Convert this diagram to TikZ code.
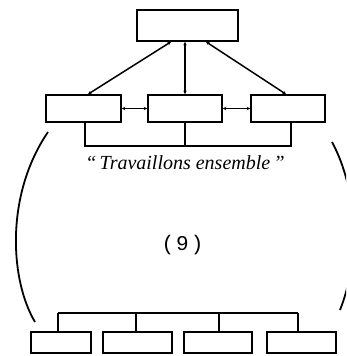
\documentclass[tikz,border=0pt]{standalone}
\usepackage{fontspec}
\setmainfont{Liberation Serif}
\newfontfamily\monofont{Liberation Mono}
\usetikzlibrary{calc,arrows.meta}
\tikzset{
  unit/.style={draw, line width=1.6pt, rectangle, inner sep=0pt},
  link/.style={line width=1.5pt},
  flow/.style={line width=1.5pt, {Stealth[length=3.5pt,width=3.5pt]}-{Stealth[length=3.5pt,width=3.5pt]}},
  brace/.style={line width=1.8pt},
}
\begin{document}
\begin{tikzpicture}[x=1pt,y=-1pt]
\useasboundingbox (0,0) rectangle (346,356);
\clip (0,0) rectangle (346,356);

% head unit
\node[unit, minimum width=101pt, minimum height=31pt] (top) at (187.5,25.5) {};

% middle row
\node[unit, minimum width=75pt, minimum height=27pt] (ml) at (83.5,108.5) {};
\node[unit, minimum width=74pt, minimum height=27pt] (mm) at (185,108.5) {};
\node[unit, minimum width=74pt, minimum height=27pt] (mr) at (288,108.5) {};

% bottom row
\node[unit, minimum width=60pt, minimum height=21pt] (b1) at (61,342.5) {};
\node[unit, minimum width=69pt, minimum height=21pt] (b2) at (137.5,342.5) {};
\node[unit, minimum width=68pt, minimum height=21pt] (b3) at (218,342.5) {};
\node[unit, minimum width=69pt, minimum height=21pt] (b4) at (301.5,342.5) {};

% links from the head unit
\draw[flow] ($(top.south)+(-16.5,0)$) -- ($(ml.north)+(4.5,0)$);
\draw[flow] (top.south -| mm.north) -- (mm.north);
\draw[flow] ($(top.south)+(18.5,0)$) -- ($(mr.north)+(-2,0)$);

% links inside the middle row
\draw[flow] (ml.east) -- (mm.west);
\draw[flow] (mm.east) -- (mr.west);

% common bar under the middle row
\coordinate (cl) at ($(ml.south)+(1.5,23)$);
\coordinate (cr) at ($(mr.south)+(3,23)$);
\draw[link] ($(ml.south)+(1.5,0)$) -- (cl) -- (cr) -- ($(mr.south)+(3,0)$);
\draw[link] (mm.south) -- (cl -| mm.south);

% bar over the bottom row
\coordinate (d1) at (58,313);
\coordinate (d2) at (136,313);
\coordinate (d3) at (219,313);
\coordinate (d4) at (298,313);
\draw[link] (d1) -- (d4);
\draw[link] (d1) -- (d1 |- b1.north);
\draw[link] (d2) -- (d2 |- b2.north);
\draw[link] (d3) -- (d3 |- b3.north);
\draw[link] (d4) -- (d4 |- b4.north);

% enclosing arcs
\draw[brace] (48,132) .. controls (5,195) and (10,280) .. (35,322);
\draw[brace] (332,142) .. controls (358,190) and (360,260) .. (340,310);

% texts
\node (motto) at (185,163) {\fontsize{20}{24}\selectfont\itshape ``\,Travaillons ensemble\,''};
\node (num) at (182.5,245) {\monofont\fontsize{21}{24}\selectfont (\kern2pt9\kern2pt)};
\end{tikzpicture}
\end{document}
